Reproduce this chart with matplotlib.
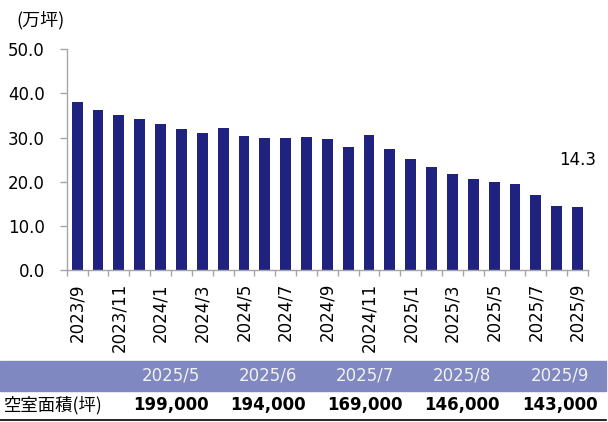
import matplotlib

matplotlib.use('Agg')

import matplotlib.pyplot as plt
from matplotlib.patches import Rectangle
from matplotlib.lines import Line2D
import numpy as np

# monthly vacant floor area (10k tsubo), 2023/9 .. 2025/9
months = ['2023/9', '2023/10', '2023/11', '2023/12',
          '2024/1', '2024/2', '2024/3', '2024/4', '2024/5', '2024/6',
          '2024/7', '2024/8', '2024/9', '2024/10', '2024/11', '2024/12',
          '2025/1', '2025/2', '2025/3', '2025/4', '2025/5', '2025/6',
          '2025/7', '2025/8', '2025/9']
values = [38.1, 36.3, 35.1, 34.2, 33.1, 31.9, 31.0, 32.2, 30.4, 29.9,
          29.9, 30.1, 29.7, 27.9, 30.6, 27.4, 25.2, 23.3, 21.8, 20.6,
          19.9, 19.4, 16.9, 14.6, 14.3]

table_months = ['2025/5', '2025/6', '2025/7', '2025/8', '2025/9']
table_values = ['199,000', '194,000', '169,000', '146,000', '143,000']
row_label = '空室面積(坪)'
unit_label = '(万坪)'

W, H = 608, 422
cjk = ['Noto Sans CJK JP', 'DejaVu Sans']
bar_color = '#1f227e'
band_color = '#7f88c0'
axis_gray = '#a6a6a6'

fig = plt.figure(figsize=(W / 100, H / 100), dpi=100)
ax = fig.add_axes([66.7 / W, 1 - 270 / H, (588 - 66.7) / W, (270 - 49.3) / H])

x = np.arange(len(values))
ax.bar(x, values, width=0.52, color=bar_color, zorder=2)

ax.set_xlim(-0.5, len(values) - 0.5)
ax.set_ylim(0, 50)
ax.set_yticks(np.arange(0, 51, 10))
ax.set_yticklabels([f'{v:.1f}' for v in np.arange(0, 51, 10)], fontsize=12)

ax.set_xticks(x[::2])
ax.set_xticklabels(months[::2], rotation=90, fontsize=12)
ax.set_xticks(np.arange(-0.5, len(values), 1), minor=True)
ax.tick_params(axis='x', which='major', length=0, pad=9.4)
ax.tick_params(axis='x', which='minor', length=4.3, color=axis_gray, width=1)
ax.tick_params(axis='y', length=5, color=axis_gray, width=1, pad=10.8)

for s in ['top', 'right']:
    ax.spines[s].set_visible(False)
for s in ['left', 'bottom']:
    ax.spines[s].set_color(axis_gray)
    ax.spines[s].set_linewidth(1)

# last value label, floated above the last bar
ax.text(x[-1], 24.9, f'{values[-1]:.1f}', ha='center', va='center', fontsize=12)

fig.text(16 / W, 1 - 20 / H, unit_label, family=cjk, fontsize=13, ha='left', va='center')

# summary table underneath
fig.patches.append(Rectangle((0, 1 - 391 / H), 606 / W, 30 / H,
                             transform=fig.transFigure, color=band_color, zorder=0))
col_x = [171, 268, 365, 462, 560]
for cx, m, v in zip(col_x, table_months, table_values):
    fig.text(cx / W, 1 - 376 / H, m, color='#f2f2f2', fontsize=12, ha='center', va='center')
    fig.text(cx / W, 1 - 405 / H, v, fontsize=12, fontweight='bold', ha='center', va='center')
fig.text(4 / W, 1 - 405 / H, row_label, family=cjk, fontsize=12.5, ha='left', va='center')
fig.lines.append(Line2D([0, 606 / W], [1 - 419.5 / H] * 2, transform=fig.transFigure,
                        color='black', linewidth=1.2))

fig.savefig('out.png', dpi=100)
plt.close(fig)
